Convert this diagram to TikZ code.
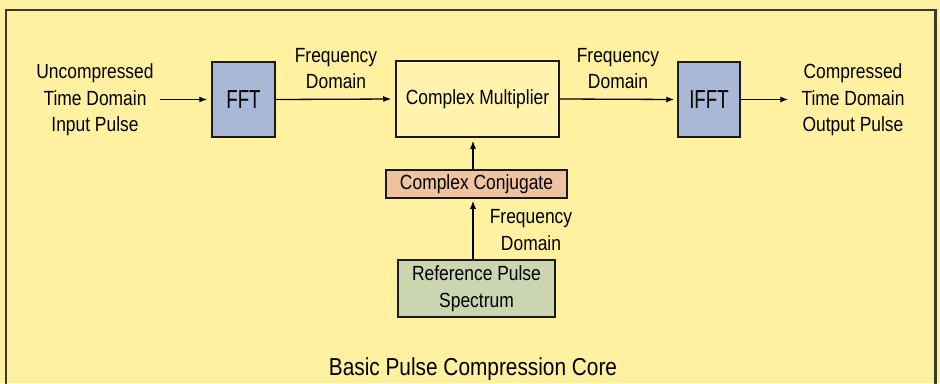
\documentclass[tikz,border=0pt]{standalone}
\usepackage{fontspec}
\setmainfont{Liberation Sans}[FakeStretch=0.85]
\newfontfamily\narrowfont{Liberation Sans}[FakeStretch=0.72]
\usetikzlibrary{arrows.meta}
\definecolor{bgyellow}{HTML}{FFF1A0}
\definecolor{multyellow}{HTML}{FFF3AE}
\definecolor{fftblue}{HTML}{A9B8D6}
\definecolor{conjsalmon}{HTML}{F0C3A0}
\definecolor{refgreen}{HTML}{CBD5B0}
\definecolor{framedark}{HTML}{3A3A30}
\tikzset{
  blockbox/.style={draw=black!90, line width=1.5pt, inner sep=0pt, align=center, font=\fontsize{20.5}{26.5}\selectfont},
  fftbox/.style={blockbox, fill=fftblue, minimum height=75pt, font=\narrowfont\fontsize{26}{28}\selectfont},
  lbl/.style={inner sep=6pt, align=center, font=\fontsize{20.5}{26.5}\selectfont},
  conn/.style={line width=1.3pt, -{Latex[length=8pt,width=6pt]}},
}
\begin{document}
\begin{tikzpicture}[x=1pt,y=-1pt]
\useasboundingbox (0,0) rectangle (940,383);
\fill[bgyellow] (0,0) rectangle (940,383);
\begin{scope}
\clip (0,0) rectangle (940,383);
\draw[framedark, line width=2.5pt] (6,420) -- (6,10) -- (935.5,10) -- (935.5,420);
\end{scope}

\node[fftbox, minimum width=63pt] (fft) at (243.5,99.5) {FFT};
\node[blockbox, fill=multyellow, minimum width=163pt, minimum height=76pt] (mult) at (477.5,99) {Complex Multiplier};
\node[fftbox, minimum width=62pt] (ifft) at (709,99.5) {IFFT};
\node[blockbox, fill=conjsalmon, minimum width=181pt, minimum height=28pt] (conj) at (476.5,184) {Complex Conjugate};
\node[blockbox, fill=refgreen, minimum width=157pt, minimum height=57pt] (ref) at (476.5,288.5) {Reference Pulse\\Spectrum};

\node[lbl] (in) at (95,100) {Uncompressed\\Time Domain\\Input Pulse};
\node[lbl] (out) at (853,100) {Compressed\\Time Domain\\Output Pulse};
\node[lbl] (f1) at (336,68.5) {Frequency\\Domain};
\node[lbl] (f2) at (618,68.5) {Frequency\\Domain};
\node[lbl] (f3) at (531,230) {Frequency\\Domain};
\node[lbl, font=\fontsize{24.5}{28}\selectfont] (title) at (473,369) {Basic Pulse Compression Core};

\draw[conn, shorten >=4pt] (in.east |- fft.west) -- (fft.west);
\draw[conn, shorten >=4pt] (fft.east) -- (mult.west);
\draw[conn, shorten >=3pt] (mult.east) -- (ifft.west);
\draw[conn, shorten >=7pt] (ifft.east) -- (out.west |- ifft.east);
\draw[conn, shorten >=3pt] ([xshift=-3.5pt]conj.north) -- ([xshift=-3.5pt]conj.north |- mult.south);
\draw[conn, shorten >=2pt] ([xshift=-3.5pt]ref.north) -- ([xshift=-3.5pt]ref.north |- conj.south);
\end{tikzpicture}
\end{document}
